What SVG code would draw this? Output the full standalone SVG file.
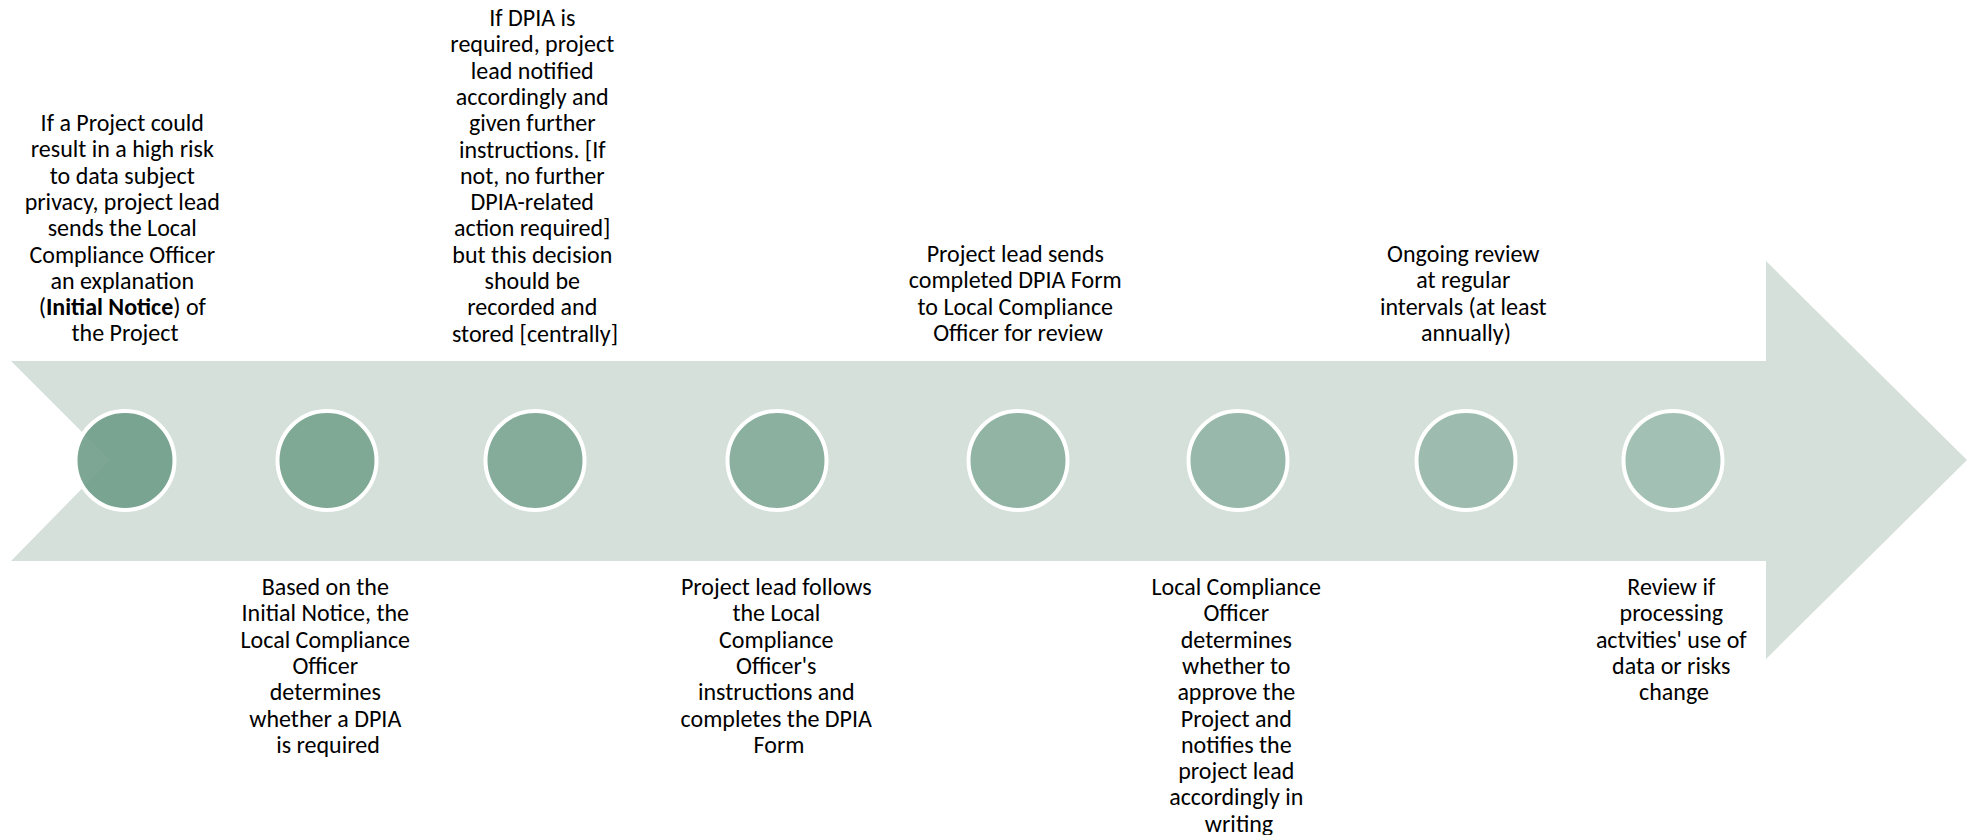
<svg xmlns="http://www.w3.org/2000/svg" width="1971" height="835" viewBox="0 0 1971 835">
<style>
.band{fill:#d5e0db;}
.dot{stroke:#ffffff;stroke-width:4;}
.t{font-family:Carlito,Calibri,Lato,"Liberation Sans",sans-serif;font-size:24px;fill:#000000;text-anchor:middle;}
.b{font-weight:bold;}
</style>
<path id="timeline-arrow" class="band" d="M11 361 L1766 361 L1766 261 L1967 460 L1766 659 L1766 561 L11 561 L110 460 Z"/>
<g id="connectors"></g>
<g id="step1">
<circle class="dot" cx="125" cy="460.5" r="49.5" fill="#6f9d88" fill-opacity="0.9"/>
<text class="t" x="125" y="131">
<tspan x="125" dy="0">If a Project could</tspan>
<tspan x="125" dy="26.3">result in a high risk</tspan>
<tspan x="125" dy="26.3">to data subject</tspan>
<tspan x="125" dy="26.3">privacy, project lead</tspan>
<tspan x="125" dy="26.3">sends the Local</tspan>
<tspan x="125" dy="26.3">Compliance Officer</tspan>
<tspan x="125" dy="26.3">an explanation</tspan>
<tspan x="125" dy="26.3">(<tspan class="b">Initial Notice</tspan>) of</tspan>
<tspan x="125" dy="26.3">the Project</tspan>
</text>
</g>
<g id="step2">
<circle class="dot" cx="327" cy="460.5" r="49.5" fill="#7fa895"/>
<text class="t" x="328" y="595">
<tspan x="328" dy="0">Based on the</tspan>
<tspan x="328" dy="26.3">Initial Notice, the</tspan>
<tspan x="328" dy="26.3">Local Compliance</tspan>
<tspan x="328" dy="26.3">Officer</tspan>
<tspan x="328" dy="26.3">determines</tspan>
<tspan x="328" dy="26.3">whether a DPIA</tspan>
<tspan x="328" dy="26.3">is required</tspan>
</text>
</g>
<g id="step3">
<circle class="dot" cx="535" cy="460.5" r="49.5" fill="#85ac9a"/>
<text class="t" x="535" y="26">
<tspan x="535" dy="0">If DPIA is</tspan>
<tspan x="535" dy="26.3">required, project</tspan>
<tspan x="535" dy="26.3">lead notified</tspan>
<tspan x="535" dy="26.3">accordingly and</tspan>
<tspan x="535" dy="26.3">given further</tspan>
<tspan x="535" dy="26.3">instructions. [If</tspan>
<tspan x="535" dy="26.3">not, no further</tspan>
<tspan x="535" dy="26.3">DPIA-related</tspan>
<tspan x="535" dy="26.3">action required]</tspan>
<tspan x="535" dy="26.3">but this decision</tspan>
<tspan x="535" dy="26.3">should be</tspan>
<tspan x="535" dy="26.3">recorded and</tspan>
<tspan x="535" dy="26.3">stored [centrally]</tspan>
</text>
</g>
<g id="step4">
<circle class="dot" cx="777" cy="460.5" r="49.5" fill="#8bb09f"/>
<text class="t" x="779" y="595">
<tspan x="779" dy="0">Project lead follows</tspan>
<tspan x="779" dy="26.3">the Local</tspan>
<tspan x="779" dy="26.3">Compliance</tspan>
<tspan x="779" dy="26.3">Officer's</tspan>
<tspan x="779" dy="26.3">instructions and</tspan>
<tspan x="779" dy="26.3">completes the DPIA</tspan>
<tspan x="779" dy="26.3">Form</tspan>
</text>
</g>
<g id="step5">
<circle class="dot" cx="1018" cy="460.5" r="49.5" fill="#91b4a5"/>
<text class="t" x="1018" y="262">
<tspan x="1018" dy="0">Project lead sends</tspan>
<tspan x="1018" dy="26.3">completed DPIA Form</tspan>
<tspan x="1018" dy="26.3">to Local Compliance</tspan>
<tspan x="1018" dy="26.3">Officer for review</tspan>
</text>
</g>
<g id="step6">
<circle class="dot" cx="1238" cy="460.5" r="49.5" fill="#97b8aa"/>
<text class="t" x="1239" y="595">
<tspan x="1239" dy="0">Local Compliance</tspan>
<tspan x="1239" dy="26.3">Officer</tspan>
<tspan x="1239" dy="26.3">determines</tspan>
<tspan x="1239" dy="26.3">whether to</tspan>
<tspan x="1239" dy="26.3">approve the</tspan>
<tspan x="1239" dy="26.3">Project and</tspan>
<tspan x="1239" dy="26.3">notifies the</tspan>
<tspan x="1239" dy="26.3">project lead</tspan>
<tspan x="1239" dy="26.3">accordingly in</tspan>
<tspan x="1239" dy="26.3">writing</tspan>
</text>
</g>
<g id="step7">
<circle class="dot" cx="1466" cy="460.5" r="49.5" fill="#9dbcaf"/>
<text class="t" x="1466" y="262">
<tspan x="1466" dy="0">Ongoing review</tspan>
<tspan x="1466" dy="26.3">at regular</tspan>
<tspan x="1466" dy="26.3">intervals (at least</tspan>
<tspan x="1466" dy="26.3">annually)</tspan>
</text>
</g>
<g id="step8">
<circle class="dot" cx="1673" cy="460.5" r="49.5" fill="#a3c0b4"/>
<text class="t" x="1674" y="595">
<tspan x="1674" dy="0">Review if</tspan>
<tspan x="1674" dy="26.3">processing</tspan>
<tspan x="1674" dy="26.3">actvities' use of</tspan>
<tspan x="1674" dy="26.3">data or risks</tspan>
<tspan x="1674" dy="26.3">change</tspan>
</text>
</g>
</svg>
